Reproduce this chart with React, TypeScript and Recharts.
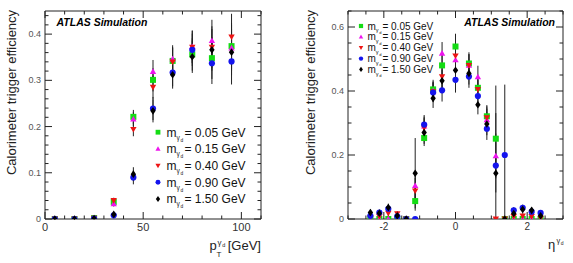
import React from 'react';
import { ScatterChart, Scatter, XAxis, YAxis, ErrorBar, Legend } from 'recharts';

// dark photon masses (legend)
const massLabels = ['0.05', '0.15', '0.40', '0.90', '1.50'];
const markerColors = ['#14dc14', '#ee14ee', '#ee1414', '#1414ee', '#000000'];
const markerKinds = ['square', 'triUp', 'triDown', 'circle', 'diamond'];

// left panel: efficiency vs pT
const ptBins = [5, 15, 25, 35, 45, 55, 65, 75, 85, 95];
const ptEff005 = [0, 0, 0.002, 0.037, 0.221, 0.301, 0.342, 0.356, 0.348, 0.374];
const ptEff015 = [0, 0, 0.002, 0.033, 0.216, 0.319, 0.346, 0.373, 0.386, 0.37];
const ptEff040 = [0, 0, 0.002, 0.04, 0.194, 0.285, 0.34, 0.372, 0.372, 0.394];
const ptEff090 = [0, 0, 0.001, 0.008, 0.09, 0.239, 0.317, 0.366, 0.337, 0.341];
const ptEff150 = [0, 0, 0.001, 0.01, 0.097, 0.234, 0.312, 0.351, 0.366, 0.361];
const ptErr = [0.001, 0.001, 0.002, 0.006, 0.015, 0.025, 0.03, 0.035, 0.045, 0.05];

const ptXTicks = [0, 10, 20, 30, 40, 50, 60, 70, 80, 90, 100, 110];
const ptXMajor = [0, 50, 100];
const ptYTicks = [0, 0.02, 0.04, 0.06, 0.08, 0.1, 0.12, 0.14, 0.16, 0.18, 0.2, 0.22, 0.24, 0.26, 0.28, 0.3, 0.32, 0.34, 0.36, 0.38, 0.4, 0.42, 0.44];
const ptYMajor = [0, 0.1, 0.2, 0.3, 0.4];

// right panel: efficiency vs eta
const etaBins = [-2.375, -2.125, -1.875, -1.625, -1.375, -1.125, -0.875, -0.625, -0.375, 0, 0.375, 0.625, 0.875, 1.125, 1.375, 1.625, 1.875, 2.125, 2.375];
const etaEff005 = [0, 0, 0, 0, 0, 0.056, 0.253, 0.405, 0.48, 0.539, 0.486, 0.41, 0.321, 0.251, 0, 0, 0, 0, 0];
const etaEff015 = [0, 0, 0, 0, 0, 0.104, 0.29, 0.4, 0.518, 0.497, 0.48, 0.444, 0.31, 0.197, 0, 0, 0, 0, 0];
const etaEff040 = [0.005, 0.008, 0.018, 0.017, 0, 0.088, 0.285, 0.398, 0.445, 0.51, 0.48, 0.405, 0.317, 0, 0, 0.008, 0.01, 0.008, 0.003];
const etaEff090 = [0.01, 0.02, 0.032, 0.008, 0, 0, 0.295, 0.395, 0.402, 0.435, 0.445, 0.384, 0.282, 0.167, 0.2, 0.027, 0.035, 0.023, 0.019];
const etaEff150 = [0.02, 0.018, 0.036, 0.01, 0, 0.143, 0.27, 0.377, 0.432, 0.465, 0.455, 0.357, 0.297, 0.143, 0, 0.017, 0.03, 0.027, 0.01];
const etaErr005 = [0, 0, 0, 0, 0, 0.03, 0.025, 0.03, 0.035, 0.04, 0.035, 0.035, 0.035, 0.08, 0, 0, 0, 0, 0];
const etaErr015 = [0, 0, 0, 0, 0, 0.04, 0.03, 0.03, 0.035, 0.04, 0.035, 0.035, 0.035, 0.07, 0, 0, 0, 0, 0];
const etaErr040 = [0.005, 0.006, 0.01, 0.008, 0, 0.04, 0.03, 0.03, 0.035, 0.04, 0.035, 0.03, 0.035, 0, 0, 0.006, 0.008, 0.006, 0.003];
const etaErr090 = [0.008, 0.01, 0.012, 0.008, 0, 0, 0.03, 0.03, 0.035, 0.04, 0.035, 0.03, 0.035, [0.167, 0.25], [0.2, 0.22], 0.01, 0.01, 0.008, 0.008];
const etaErr150 = [0.01, 0.01, 0.012, 0.008, 0, 0.11, 0.035, 0.03, 0.035, 0.04, 0.035, 0.03, 0.035, 0.06, 0, 0.008, 0.01, 0.01, 0.008];

const etaXTicks = [-3, -2.5, -2, -1.5, -1, -0.5, 0, 0.5, 1, 1.5, 2, 2.5, 3];
const etaXMajor = [-2, 0, 2];
const etaYTicks = [0, 0.05, 0.1, 0.15, 0.2, 0.25, 0.3, 0.35, 0.4, 0.45, 0.5, 0.55, 0.6, 0.65];
const etaYMajor = [0, 0.2, 0.4, 0.6];

const FONT = '"Liberation Sans", Arial, Helvetica, sans-serif';
const FRAME = '#222';

const toPoints = (xs: number[], ys: number[], errs: any[]) =>
  xs.map((x, i) => ({ x, y: ys[i], err: errs[i] }));

const ptSeries = [ptEff005, ptEff015, ptEff040, ptEff090, ptEff150].map((ys) => toPoints(ptBins, ys, ptErr));
const etaSeries = [
  toPoints(etaBins, etaEff005, etaErr005),
  toPoints(etaBins, etaEff015, etaErr015),
  toPoints(etaBins, etaEff040, etaErr040),
  toPoints(etaBins, etaEff090, etaErr090),
  toPoints(etaBins, etaEff150, etaErr150),
];

function drawMarker(kind: string, cx: number, cy: number, color: string, s = 1) {
  if (kind === 'square') {
    const h = 3 * s;
    return <rect x={cx - h} y={cy - h} width={2 * h} height={2 * h} fill={color} />;
  }
  if (kind === 'triUp') {
    const h = 3.2 * s;
    return <polygon points={`${cx},${cy - h} ${cx - h},${cy + h * 0.75} ${cx + h},${cy + h * 0.75}`} fill={color} />;
  }
  if (kind === 'triDown') {
    const h = 3.2 * s;
    return <polygon points={`${cx},${cy + h} ${cx - h},${cy - h * 0.75} ${cx + h},${cy - h * 0.75}`} fill={color} />;
  }
  if (kind === 'circle') return <circle cx={cx} cy={cy} r={3.1 * s} fill={color} />;
  return <polygon points={`${cx},${cy - 3.8 * s} ${cx + 2.7 * s},${cy} ${cx},${cy + 3.8 * s} ${cx - 2.7 * s},${cy}`} fill={color} />;
}

// ROOT-style ticks drawn inside the frame
function tickRenderer(side: string, majors: number[], fontSize = 0, fmt?: (v: number) => string) {
  return (props: any) => {
    const { x, y, payload } = props;
    const v = payload.value;
    const major = majors.some((m) => Math.abs(m - v) < 1e-6);
    const len = major ? 7 : 3.5;
    let x2 = x;
    let y2 = y;
    if (side === 'bottom') y2 = y - len;
    if (side === 'top') y2 = y + len;
    if (side === 'left') x2 = x + len;
    if (side === 'right') x2 = x - len;
    let label = null;
    if (major && fmt && fontSize > 0) {
      if (side === 'bottom') {
        label = (
          <text x={x} y={y + fontSize + 1} textAnchor="middle" fontSize={fontSize} fill="#333" fontFamily={FONT}>
            {fmt(v)}
          </text>
        );
      } else if (side === 'left') {
        label = (
          <text x={x - 4} y={y + fontSize * 0.35} textAnchor="end" fontSize={fontSize} fill="#555" fontFamily={FONT}>
            {fmt(v)}
          </text>
        );
      }
    }
    return (
      <g>
        <line x1={x} y1={y} x2={x2} y2={y2} stroke={FRAME} strokeWidth={1} />
        {label}
      </g>
    );
  };
}

function legendRenderer(fontSize: number, rowGap: number, w: number, h: number, markerScale: number) {
  return (props: any) => {
    const entries = props.payload || [];
    return (
      <svg width={w} height={h} style={{ overflow: 'visible' }}>
        {entries.map((e: any, i: number) => {
          const cy = fontSize * 0.6 + i * rowGap;
          const tx = fontSize * 1.05;
          const mW = fontSize * 0.833;
          return (
            <g key={i} fontFamily={FONT} fill="#111">
              {drawMarker(markerKinds[i], 4, cy, markerColors[i], markerScale)}
              <text x={tx} y={cy + fontSize * 0.36} fontSize={fontSize}>m</text>
              <text x={tx + mW} y={cy + fontSize * 0.62} fontSize={fontSize * 0.55}>γ</text>
              <text x={tx + mW + fontSize * 0.33} y={cy + fontSize * 0.78} fontSize={fontSize * 0.4}>d</text>
              <text x={tx + mW + fontSize * 0.66} y={cy + fontSize * 0.36} fontSize={fontSize}>
                {` = ${e.value} GeV`}
              </text>
            </g>
          );
        })}
      </svg>
    );
  };
}

function Panel(props: {
  series: any[];
  xDomain: number[];
  yDomain: number[];
  xTicks: number[];
  xMajor: number[];
  yTicks: number[];
  yMajor: number[];
  xFmt: (v: number) => string;
  yFmt: (v: number) => string;
  xFont: number;
  width: number;
  margin: any;
  legendBox: any;
  legendFont: number;
  legendGap: number;
  legendScale: number;
}) {
  const p = props;
  return (
    <ScatterChart width={p.width} height={263} margin={p.margin}>
      <XAxis
        xAxisId="b"
        type="number"
        dataKey="x"
        domain={p.xDomain}
        ticks={p.xTicks}
        interval={0}
        height={1}
        tickSize={0}
        tickMargin={0}
        tickLine={false}
        axisLine={{ stroke: FRAME }}
        allowDataOverflow
        tick={tickRenderer('bottom', p.xMajor, p.xFont, p.xFmt)}
      />
      <XAxis
        xAxisId="t"
        orientation="top"
        type="number"
        dataKey="x"
        domain={p.xDomain}
        ticks={p.xTicks}
        interval={0}
        height={1}
        tickSize={0}
        tickMargin={0}
        tickLine={false}
        axisLine={{ stroke: FRAME }}
        allowDataOverflow
        tick={tickRenderer('top', p.xMajor)}
      />
      <YAxis
        yAxisId="l"
        type="number"
        dataKey="y"
        domain={p.yDomain}
        ticks={p.yTicks}
        interval={0}
        width={1}
        tickSize={0}
        tickMargin={0}
        tickLine={false}
        axisLine={{ stroke: FRAME }}
        allowDataOverflow
        tick={tickRenderer('left', p.yMajor, 9, p.yFmt)}
      />
      <YAxis
        yAxisId="r"
        orientation="right"
        type="number"
        dataKey="y"
        domain={p.yDomain}
        ticks={p.yTicks}
        interval={0}
        width={1}
        tickSize={0}
        tickMargin={0}
        tickLine={false}
        axisLine={{ stroke: FRAME }}
        allowDataOverflow
        tick={tickRenderer('right', p.yMajor)}
      />
      {p.series.map((data, i) => (
        <Scatter
          key={i}
          name={massLabels[i]}
          data={data}
          xAxisId="b"
          yAxisId="l"
          fill={markerColors[i]}
          isAnimationActive={false}
          shape={(s: any) => drawMarker(markerKinds[i], s.cx, s.cy, markerColors[i])}
        >
          <ErrorBar dataKey="err" direction="y" width={0} stroke="#222" strokeWidth={1} isAnimationActive={false} />
        </Scatter>
      ))}
      <Legend
        layout="vertical"
        align="center"
        verticalAlign="middle"
        width={p.legendBox.width}
        height={p.legendBox.height}
        wrapperStyle={{ left: p.legendBox.left, top: p.legendBox.top }}
        content={legendRenderer(p.legendFont, p.legendGap, p.legendBox.width, p.legendBox.height, p.legendScale)}
      />
    </ScatterChart>
  );
}

export default function App() {
  return (
    <div style={{ position: 'absolute', left: 0, top: 0, width: 573, height: 263, background: '#fff', fontFamily: FONT }}>
      <div style={{ position: 'absolute', left: 0, top: 0 }}>
        <Panel
          series={ptSeries}
          xDomain={[0, 110]}
          yDomain={[0, 0.45]}
          xTicks={ptXTicks}
          xMajor={ptXMajor}
          yTicks={ptYTicks}
          yMajor={ptYMajor}
          xFmt={(v) => String(v)}
          yFmt={(v) => (v === 0 ? '0' : v.toFixed(1))}
          xFont={11}
          width={286}
          margin={{ top: 10, right: 24, bottom: 43, left: 44 }}
          legendBox={{ left: 154, top: 125, width: 106, height: 84 }}
          legendFont={12}
          legendGap={16.7}
          legendScale={0.8}
        />
      </div>
      <div style={{ position: 'absolute', left: 286, top: 0 }}>
        <Panel
          series={etaSeries}
          xDomain={[-3, 3]}
          yDomain={[0, 0.65]}
          xTicks={etaXTicks}
          xMajor={etaXMajor}
          yTicks={etaYTicks}
          yMajor={etaYMajor}
          xFmt={(v) => String(v)}
          yFmt={(v) => (v === 0 ? '0' : v.toFixed(1))}
          xFont={10}
          width={287}
          margin={{ top: 10, right: 9, bottom: 43, left: 61 }}
          legendBox={{ left: 71, top: 19.5, width: 80, height: 56 }}
          legendFont={10}
          legendGap={10.85}
          legendScale={0.7}
        />
      </div>
      <svg width={573} height={263} style={{ position: 'absolute', left: 0, top: 0, pointerEvents: 'none' }} fontFamily={FONT}>
        <text transform="translate(16,92.5) rotate(-90)" textAnchor="middle" fontSize={13} fill="#222">
          Calorimeter trigger efficiency
        </text>
        <text transform="translate(315,92.5) rotate(-90)" textAnchor="middle" fontSize={13} fill="#222">
          Calorimeter trigger efficiency
        </text>
        <text x={56.5} y={25.5} fontSize={10.5} fontWeight="bold" fontStyle="italic" fill="#000">
          ATLAS Simulation
        </text>
        <text x={555} y={25.5} textAnchor="end" fontSize={10.5} fontWeight="bold" fontStyle="italic" fill="#000">
          ATLAS Simulation
        </text>
        <g fill="#222">
          <text x={209.5} y={250} fontSize={13}>p</text>
          <text x={216.5} y={256.5} fontSize={8}>T</text>
          <text x={217.5} y={244.5} fontSize={8}>γ</text>
          <text x={222.2} y={246.5} fontSize={5.5}>d</text>
          <text x={261} y={250} fontSize={13} textAnchor="end">[GeV]</text>
        </g>
        <g fill="#222">
          <text x={548} y={248.5} fontSize={13}>η</text>
          <text x={556.5} y={243} fontSize={7.5}>γ</text>
          <text x={560.8} y={245} fontSize={5}>d</text>
        </g>
      </svg>
    </div>
  );
}
